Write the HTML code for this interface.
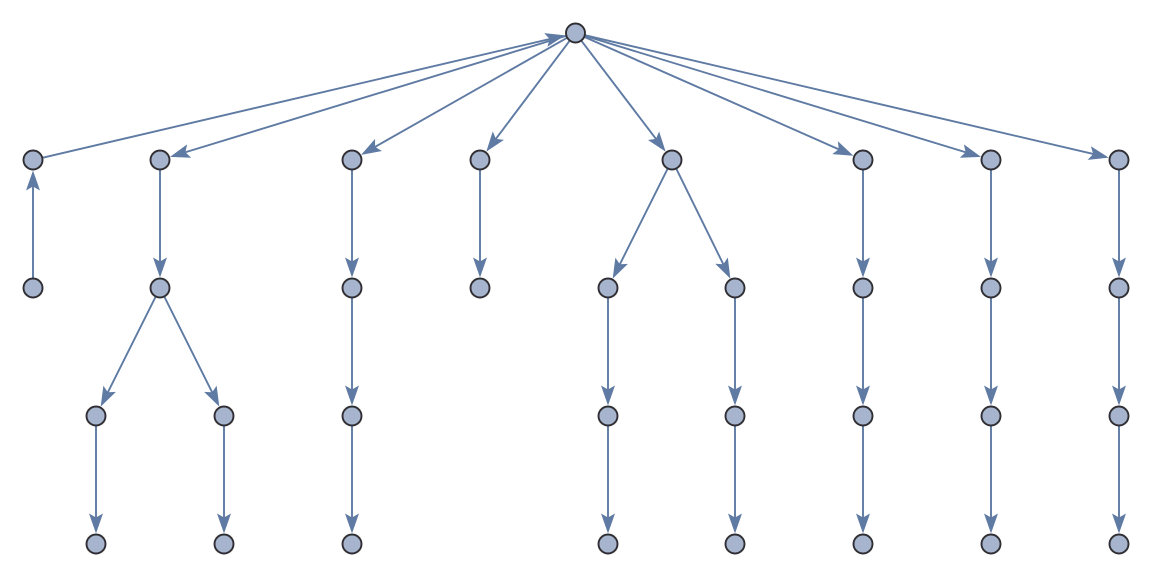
<!DOCTYPE html>
<html><head><meta charset="utf-8"><style>html,body{margin:0;padding:0;background:#fff}svg{display:block}</style></head>
<body>
<svg id="s" width="1152" height="576" viewBox="0 0 1152 576" xmlns="http://www.w3.org/2000/svg">
<g id="e" stroke="#5f7aa3" stroke-width="1.9" fill="#5f7aa3"></g>
<g id="n" fill="#a6b4cd" stroke="#2e2e33" stroke-width="1.9"></g>
</svg>
<script>
var R=[575.5,33];
var L1=[33,160,352,480,672,863,991,1119];
var edges=[];
L1.forEach(function(x){ if(x===33) edges.push([[33,160],R]); else edges.push([R,[x,160]]); });
edges.push([[33,288],[33,160]]);
[160,352,480,863,991,1119].forEach(function(x){edges.push([[x,160],[x,288]]);});
edges.push([[672,160],[608,288]]);edges.push([[672,160],[735,288]]);
edges.push([[160,288],[96,416]]);edges.push([[160,288],[224,416]]);
[352,608,735,863,991,1119].forEach(function(x){edges.push([[x,288],[x,416]]);});
[96,224,352,608,735,863,991,1119].forEach(function(x){edges.push([[x,416],[x,544]]);});
var nodes=[R];
L1.forEach(function(x){nodes.push([x,160]);});
[33,160,352,480,608,735,863,991,1119].forEach(function(x){nodes.push([x,288]);});
[96,224,352,608,735,863,991,1119].forEach(function(x){nodes.push([x,416]);nodes.push([x,544]);});
var NS="http://www.w3.org/2000/svg",ge=document.getElementById('e'),gn=document.getElementById('n');
edges.forEach(function(ed){
 var a=ed[0],b=ed[1],dx=b[0]-a[0],dy=b[1]-a[1],l=Math.hypot(dx,dy),ux=dx/l,uy=dy/l;
 var r=10.5,tx=b[0]-ux*r,ty=b[1]-uy*r,al=20,aw=7;
 var ln=document.createElementNS(NS,'line');
 ln.setAttribute('x1',a[0]+ux*9);ln.setAttribute('y1',a[1]+uy*9);ln.setAttribute('x2',tx-ux*10);ln.setAttribute('y2',ty-uy*10);
 ge.appendChild(ln);
 var bx=tx-ux*al,by=ty-uy*al,px=-uy,py=ux,nx=tx-ux*(al-4),ny=ty-uy*(al-4);
 var pg=document.createElementNS(NS,'polygon');
 pg.setAttribute('points',tx+','+ty+' '+(bx+px*aw)+','+(by+py*aw)+' '+nx+','+ny+' '+(bx-px*aw)+','+(by-py*aw));
 pg.setAttribute('stroke','none');
 ge.appendChild(pg);
});
nodes.forEach(function(p){var c=document.createElementNS(NS,'circle');c.setAttribute('cx',p[0]);c.setAttribute('cy',p[1]);c.setAttribute('r',9.5);gn.appendChild(c);});
</script>
</body></html>
